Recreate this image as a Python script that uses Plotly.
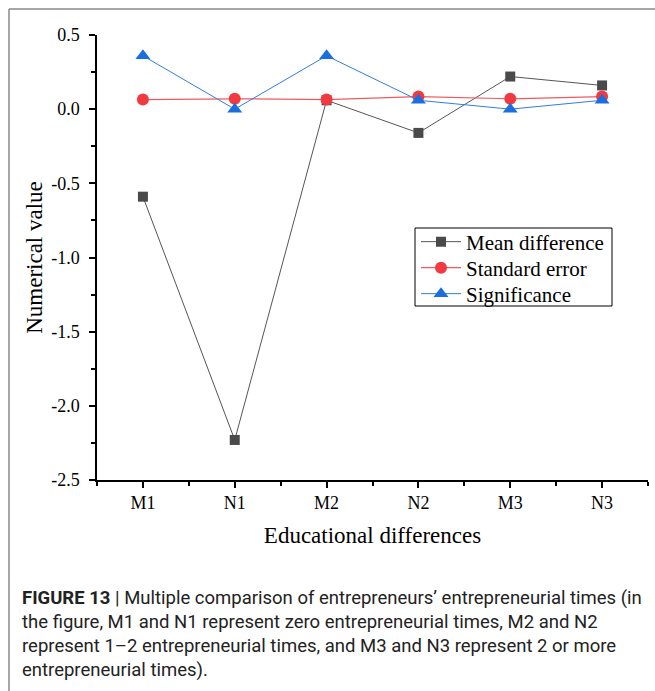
import plotly.graph_objects as go

categories = ["M1", "N1", "M2", "N2", "M3", "N3"]
mean_difference = [-0.59, -2.23, 0.06, -0.16, 0.22, 0.16]
standard_error = [0.065, 0.07, 0.065, 0.085, 0.07, 0.085]
significance = [0.36, 0.0, 0.36, 0.06, 0.0, 0.06]
y_ticks = [-2.5, -2.0, -1.5, -1.0, -0.5, 0.0, 0.5]
y_tick_labels = ["-2.5", "-2.0", "-1.5", "-1.0", "-0.5", "0.0", "0.5"]
caption_lines = [
    "<b>FIGURE 13</b> | Multiple comparison of entrepreneurs’ entrepreneurial times (in",
    "the figure, M1 and N1 represent zero entrepreneurial times, M2 and N2",
    "represent 1–2 entrepreneurial times, and M3 and N3 represent 2 or more",
    "entrepreneurial times).",
]

W, H = 655, 691
L, R, T, B = 97, 7, 35, 211
pw, ph = W - L - R, H - T - B

def px_x(px):
    return (px - L) / pw

def px_y(py):
    return (H - B - py) / ph

xs = list(range(len(categories)))
serif = "Liberation Serif, Times New Roman, serif"

fig = go.Figure()
fig.add_trace(go.Scatter(
    x=xs, y=mean_difference, name="Mean difference", mode="lines+markers",
    line=dict(color="#555555", width=1),
    marker=dict(symbol="square", size=10, color="#4a4a4a"),
    legend="legend",
))
fig.add_trace(go.Scatter(
    x=xs, y=standard_error, name="Standard error", mode="lines+markers",
    line=dict(color="#f05a5f", width=1.2),
    marker=dict(symbol="circle", size=12, color="#f03a40"),
    legend="legend2",
))
fig.add_trace(go.Scatter(
    x=xs, y=significance, name="Significance", mode="lines+markers",
    line=dict(color="#2f7de6", width=1),
    marker=dict(symbol="triangle-up", size=13, color="#1a6fe0"),
    legend="legend3",
))

def leg(row_y):
    return dict(
        x=px_x(416), y=px_y(row_y), xanchor="left", yanchor="middle",
        borderwidth=0, bgcolor="rgba(0,0,0,0)",
        font=dict(family=serif, size=21, color="black"),
        itemwidth=40,
    )

fig.update_layout(
    width=W, height=H,
    margin=dict(l=L, r=R, t=T, b=B),
    paper_bgcolor="white", plot_bgcolor="white",
    showlegend=True,
    legend=leg(242), legend2=leg(268), legend3=leg(294),
    xaxis=dict(
        range=[-0.5, 5.5], tickmode="array", tickvals=xs, ticktext=categories,
        showgrid=False, zeroline=False, showline=True, linecolor="black", linewidth=1.5,
        ticks="outside", ticklen=6, tickwidth=1.5, tickcolor="black",
        tickfont=dict(family=serif, size=18, color="black"),
        ticklabelstandoff=0,
        minor=dict(tickvals=[-0.5, 0.5, 1.5, 2.5, 3.5, 4.5, 5.5], ticks="outside",
                   ticklen=4, tickwidth=1.5, tickcolor="black"),
        title=dict(text="Educational differences", font=dict(family=serif, size=23, color="black"),
                   standoff=15),
    ),
    yaxis=dict(
        range=[-2.5, 0.5], tickmode="array", tickvals=y_ticks, ticktext=y_tick_labels,
        showgrid=False, zeroline=False, showline=True, linecolor="black", linewidth=1.5,
        ticks="outside", ticklen=6, tickwidth=1.5, tickcolor="black",
        tickfont=dict(family=serif, size=18, color="black"),
        ticklabelstandoff=6,
        minor=dict(tickvals=[-2.25, -1.75, -1.25, -0.75, -0.25, 0.25], ticks="outside",
                   ticklen=4, tickwidth=1.5, tickcolor="black"),
        title=dict(text="Numerical value", font=dict(family=serif, size=23, color="black"),
                   standoff=2),
    ),
)

# legend frame
fig.add_shape(type="rect", xref="paper", yref="paper", layer="below",
              x0=px_x(415), x1=px_x(612), y0=px_y(228), y1=px_y(306),
              line=dict(color="black", width=1), fillcolor="white")

# frame lines of the figure panel
fig.add_shape(type="line", xref="paper", yref="paper",
              x0=px_x(9), x1=px_x(655), y0=px_y(9), y1=px_y(9),
              line=dict(color="#888888", width=1.5))
fig.add_shape(type="line", xref="paper", yref="paper",
              x0=px_x(9), x1=px_x(9), y0=px_y(9), y1=px_y(691),
              line=dict(color="#888888", width=1.5))

caption_y = [598, 622, 646, 670]
for line, cy in zip(caption_lines, caption_y):
    fig.add_annotation(
        text=line, xref="paper", yref="paper", x=px_x(20), y=px_y(cy),
        xanchor="left", yanchor="middle", showarrow=False, align="left",
        font=dict(family="Roboto, Liberation Sans, Arial, sans-serif", size=18.5, color="#222222"),
    )

fig.write_html("out.html")
